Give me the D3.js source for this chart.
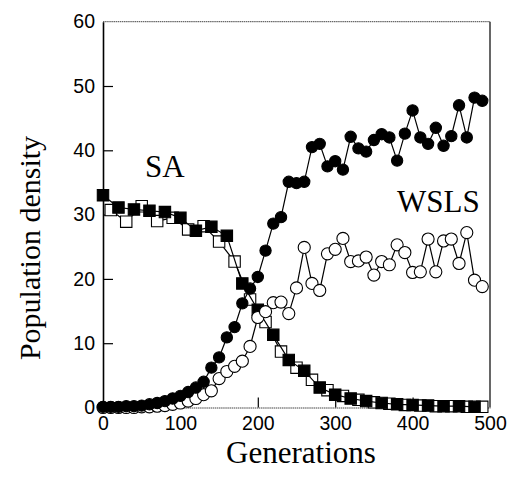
<!DOCTYPE html>
<html>
<head>
<meta charset="utf-8">
<script src="https://cdn.jsdelivr.net/npm/d3@7"></script>
<style>
  html, body { margin: 0; padding: 0; background: #fff; }
  svg { display: block; }
</style>
</head>
<body>
<svg id="chart" width="508" height="486"></svg>
<script>
// ---- data ----
const xTicks = [0, 100, 200, 300, 400, 500];
const yTicks = [0, 10, 20, 30, 40, 50, 60];

// WSLS, run 1 (filled circles), every 10 generations
const wslsFilledGen = [0,10,20,30,40,50,60,70,80,90,100,110,120,130,140,150,160,170,180,190,200,210,220,230,240,250,260,270,280,290,300,310,320,330,340,350,360,370,380,390,400,410,420,430,440,450,460,470,480,490];
const wslsFilled = [0.1,0.1,0.1,0.2,0.2,0.3,0.5,0.7,1.0,1.4,1.8,2.4,3.1,4.0,6.2,7.8,10.9,12.5,16.2,18.5,20.3,24.4,28.6,29.6,35.1,34.9,35.1,40.5,41.0,37.5,38.3,37.0,42.1,40.3,39.8,41.6,42.5,42.0,38.4,42.6,46.2,42.0,41.0,43.5,40.7,42.2,47.0,42.0,48.2,47.7];

// WSLS, run 2 (open circles), every 10 generations
const wslsOpenGen = wslsFilledGen;
const wslsOpen = [0.0,0.0,0.0,0.0,0.0,0.1,0.1,0.2,0.3,0.5,0.7,1.0,1.4,2.0,2.6,4.5,5.6,6.4,7.2,9.5,14.0,14.9,16.3,16.4,14.6,18.6,24.9,19.3,18.2,23.9,24.6,26.3,22.7,22.8,23.4,20.6,22.7,22.2,25.3,24.1,21.0,21.1,26.2,21.1,25.9,26.2,22.4,27.2,19.8,18.8];

// SA, run 1 (filled squares)
const saFilledGen = [0,20,40,60,80,100,120,140,160,180,200,220,240,260,280,300,320,340,360,380,400,420,440,460,480];
const saFilled = [33.0,31.1,30.8,30.6,30.4,29.5,27.5,28.1,26.7,19.3,15.2,11.3,7.4,5.7,3.1,2.0,1.4,1.0,0.7,0.5,0.4,0.3,0.2,0.2,0.1];

// SA, run 2 (open squares)
const saOpenGen = [10,30,50,70,90,110,130,150,170,190,210,230,250,270,290,310,330,350,370,390,410,430,450,470,490];
const saOpen = [30.7,28.9,31.3,29.0,29.5,27.7,28.2,25.8,22.7,16.8,13.3,8.7,6.2,4.3,2.7,1.8,1.2,0.8,0.6,0.4,0.3,0.2,0.2,0.1,0.1];

const labels = { x: "Generations", y: "Population density", sa: "SA", wsls: "WSLS" };

// ---- drawing ----
const svg = d3.select("#chart");
const x = d3.scaleLinear().domain([0, 500]).range([103, 490]);
const y = d3.scaleLinear().domain([0, 60]).range([407.5, 21.7]);

// frame: top & bottom thin, left bold, right thin
svg.append("line").attr("x1", x(0)).attr("x2", x(500)).attr("y1", y(60)).attr("y2", y(60))
  .attr("stroke", "#444").attr("stroke-width", 1).attr("stroke-dasharray", "1.5,0.6");
svg.append("line").attr("x1", x(500)).attr("x2", x(500)).attr("y1", y(60)).attr("y2", y(0))
  .attr("stroke", "#000").attr("stroke-width", 1.2);

const tickFont = "'Liberation Sans', Arial, sans-serif";
const gx = svg.append("g").attr("transform", `translate(0,${y(0)})`)
  .call(d3.axisBottom(x).tickValues(xTicks).tickSizeInner(-10).tickSizeOuter(0).tickPadding(9).tickFormat(d3.format("d")));
gx.select(".domain").attr("stroke", "#444").attr("stroke-width", 1).attr("stroke-dasharray", "1.5,0.6");
gx.selectAll(".tick line").attr("stroke", "#000").attr("stroke-width", 1.2);
gx.selectAll(".tick").filter(d => d === 0 || d === 500).select("line").remove();
gx.selectAll("text").attr("font-family", tickFont).attr("font-size", 19.5).attr("fill", "#000");

const gy = svg.append("g").attr("transform", `translate(${x(0)},0)`)
  .call(d3.axisLeft(y).tickValues(yTicks).tickSizeInner(-10).tickSizeOuter(0).tickPadding(8).tickFormat(d3.format("d")));
gy.select(".domain").attr("stroke", "#000").attr("stroke-width", 1.6);
gy.selectAll(".tick line").attr("stroke", "#000").attr("stroke-width", 1.2);
gy.selectAll(".tick").filter(d => d === 0 || d === 60).select("line").remove();
gy.selectAll("text").attr("font-family", tickFont).attr("font-size", 19.5).attr("fill", "#000");

function series(gens, vals, shape, filled) {
  const pts = gens.map((g, i) => [g, vals[i]]);
  const g = svg.append("g");
  g.append("path").datum(pts)
    .attr("d", d3.line().x(d => x(d[0])).y(d => y(d[1])))
    .attr("fill", "none").attr("stroke", "#000").attr("stroke-width", 1.2);
  const sym = d3.symbol().type(shape === "circle" ? d3.symbolCircle : d3.symbolSquare)
    .size(shape === "circle" ? (filled ? 100 : 115) : 130);
  g.selectAll("path.m").data(pts).join("path").attr("class", "m")
    .attr("transform", d => `translate(${x(d[0])},${y(d[1])})`)
    .attr("d", sym)
    .attr("fill", filled ? "#000" : "#fff")
    .attr("stroke", "#000").attr("stroke-width", 1.1);
}

series(saOpenGen, saOpen, "square", false);
series(saFilledGen, saFilled, "square", true);
series(wslsOpenGen, wslsOpen, "circle", false);
series(wslsFilledGen, wslsFilled, "circle", true);

const serif = "'Liberation Serif', 'Times New Roman', serif";
svg.append("text").attr("x", 145).attr("y", 177).attr("font-family", serif).attr("font-size", 31).text(labels.sa);
svg.append("text").attr("x", 397).attr("y", 212).attr("font-family", serif).attr("font-size", 31).text(labels.wsls);
svg.append("text").attr("x", 301).attr("y", 463).attr("text-anchor", "middle")
  .attr("font-family", serif).attr("font-size", 31).text(labels.x);
svg.append("text").attr("transform", "translate(40,248) rotate(-90)").attr("text-anchor", "middle")
  .attr("font-family", serif).attr("font-size", 30).text(labels.y);
</script>
</body>
</html>
